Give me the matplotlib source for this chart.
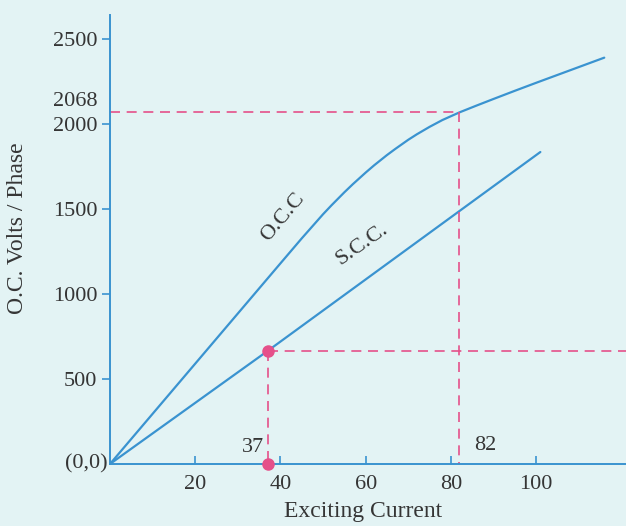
import matplotlib
matplotlib.use("Agg")
import matplotlib.pyplot as plt
import matplotlib.transforms as mtransforms

# ---- data ----
occ_current = [0, 20, 40, 45, 50, 52, 55, 57, 60, 62, 65, 67, 70, 72, 75, 78, 82, 86, 90, 95, 100, 108, 116]
occ_volts = [0, 590, 1180, 1327, 1469, 1522, 1598, 1646, 1714, 1757, 1817, 1854, 1907, 1939, 1983, 2023, 2068, 2108, 2147, 2195, 2242, 2316, 2390]
scc_current = [0, 37, 101]
scc_volts = [0, 665, 1835]
x_ticks = [20, 40, 60, 80, 100]
y_ticks = [500, 1000, 1500, 2000, 2500]
mark_x1, mark_y1 = 37, 665
mark_x2, mark_y2 = 82, 2068

bg = "#e3f3f4"
blue = "#3a93d0"
pink = "#e5508a"
txt = "#353535"

plt.rcParams['font.family'] = ['Liberation Serif', 'DejaVu Serif']

fig = plt.figure(figsize=(6.26, 5.26), dpi=100, facecolor=bg)
ax = fig.add_axes([0.1757, 0.1179, 1 - 0.1757, 0.9715 - 0.1179])
ax.set_facecolor(bg)
ax.set_xlim(0, 121.1)
ax.set_ylim(0, 2641)

ax.plot(occ_current, occ_volts, color=blue, lw=1.6, solid_capstyle='round', solid_joinstyle='round')
ax.plot(scc_current, scc_volts, color=blue, lw=1.6, solid_capstyle='round')

dash = dict(color=pink, lw=1.2, linestyle=(0, (6, 4)))
ax.plot([0, mark_x2], [mark_y2, mark_y2], **dash)
ax.plot([mark_x2, mark_x2], [mark_y2, 0], **dash)
ax.plot([mark_x1, 121.1], [mark_y1, mark_y1], **dash)
ax.plot([mark_x1, mark_x1], [mark_y1, 0], **dash)

ax.plot([mark_x1, mark_x1], [mark_y1, 0], 'o', color=pink, ms=8, clip_on=False, zorder=5)

for s in ['top', 'right']:
    ax.spines[s].set_visible(False)
for s in ['left', 'bottom']:
    ax.spines[s].set_color(blue)
    ax.spines[s].set_linewidth(1.4)

ax.set_xticks(x_ticks)
ax.set_xticklabels([str(v) for v in x_ticks])
ax.set_yticks(y_ticks)
ax.set_yticklabels([str(v) for v in y_ticks])
ax.tick_params(axis='x', direction='in', length=6, color=blue, width=1.2,
               labelsize=16, labelcolor=txt, pad=8)
ax.tick_params(axis='y', direction='out', length=6, color=blue, width=1.2,
               labelsize=16, labelcolor=txt, pad=3)

trans_y = mtransforms.blended_transform_factory(ax.transAxes, ax.transData)
lift = mtransforms.offset_copy(trans_y, fig=fig, x=0, y=11, units='dots')
ax.text(-0.025, mark_y2, str(mark_y2), transform=lift, ha='right', va='center',
        fontsize=16, color=txt)
ax.text(-0.004, 0, "(0,0)", transform=trans_y, ha='right', va='center',
        fontsize=16, color=txt)

ax.text(mark_x1 - 0.8, 40, str(mark_x1), ha='right', va='bottom', fontsize=16, color=txt)
ax.text(mark_x2 + 3.5, 50, str(mark_x2), ha='left', va='bottom', fontsize=16, color=txt)

ax.text(40.5, 1450, "O.C.C", rotation=50, ha='center', va='center', fontsize=16, color=txt)
ax.text(59.2, 1290, "S.C.C.", rotation=35, ha='center', va='center', fontsize=16, color=txt)

fig.text(363 / 626, 1 - 511 / 526, "Exciting Current", ha='center', va='center',
         fontsize=17, color=txt)
fig.text(18 / 626, 1 - 228 / 526, "O.C. Volts / Phase", ha='center', va='center',
         rotation=90, fontsize=17, color=txt)

fig.savefig("out.png", dpi=100, facecolor=bg)
